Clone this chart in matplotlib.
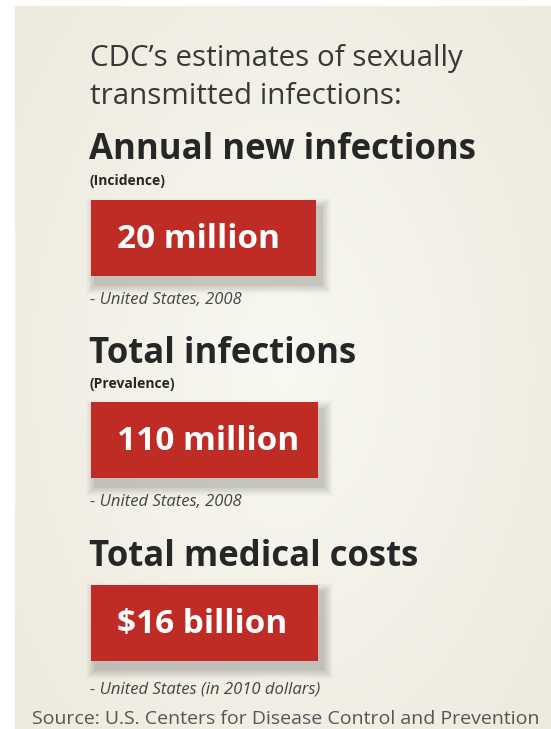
import numpy as np
import matplotlib.pyplot as plt
from matplotlib.patches import Rectangle

# content of the three panels
headings = ["Annual new infections", "Total infections", "Total medical costs"]
subheads = ["(Incidence)", "(Prevalence)", ""]
values = ["20 million", "110 million", "$16 billion"]
notes = ["- United States, 2008", "- United States, 2008",
         "- United States (in 2010 dollars)"]
title_lines = ["CDC\u2019s estimates of sexually", "transmitted infections:"]
source = "Source: U.S. Centers for Disease Control and Prevention"

W, H = 551, 729
FONT = "Open Sans"
RED = "#BF2B25"

fig = plt.figure(figsize=(W / 100, H / 100), dpi=100)
ax = fig.add_axes([0, 0, 1, 1])
ax.set_xlim(0, W)
ax.set_ylim(H, 0)
ax.axis("off")

# cream background with a soft lighter centre
yy, xx = np.mgrid[0:1:200j, 0:1:200j]
r = np.sqrt(((xx - 0.5) / 0.7) ** 2 + ((yy - 0.5) / 0.8) ** 2)
edge = np.array([0.925, 0.915, 0.865])
centre = np.array([0.975, 0.972, 0.945])
t = np.clip(r, 0, 1)[..., None]
img = centre * (1 - t) + edge * t
ax.imshow(img, extent=(15, W, H, 6), aspect="auto", zorder=0)

# title
ax.text(90, 58, title_lines[0], fontsize=21.3, family=FONT, color="#383838",
        va="center", ha="left")
ax.text(90, 96, title_lines[1], fontsize=21.3, family=FONT, color="#383838",
        va="center", ha="left")

head_y = [150, 354, 557]
sub_y = [181, 384, None]
box_y = [200, 402, 585]
note_y = [300, 502, 689]
box_w = [225, 227, 227]
box_h = 76

for i in range(3):
    ax.text(89, head_y[i], headings[i], fontsize=25, family=FONT,
            weight="bold", color="#262626", va="center", ha="left")
    if subheads[i]:
        ax.text(90, sub_y[i], subheads[i], fontsize=10, family=FONT,
                weight="bold", color="#262626", va="center", ha="left")
    # soft shadow, mostly below and to the right
    for k in range(12):
        pad = 0.8 * (k + 1)
        ax.add_patch(Rectangle((91 - pad + 5, box_y[i] - pad + 8),
                               box_w[i] + 2 * pad, box_h + 2 * pad,
                               facecolor="#000000", alpha=0.014,
                               edgecolor="none", zorder=1))
    ax.add_patch(Rectangle((91, box_y[i]), box_w[i], box_h,
                           facecolor=RED, edgecolor="none", zorder=2))
    ax.text(117, box_y[i] + box_h / 2 + 1, values[i], fontsize=24,
            family=FONT, weight="bold", color="white", va="center",
            ha="left", zorder=3)
    ax.text(90, note_y[i], notes[i], fontsize=12, family=FONT,
            style="italic", color="#444444", va="center", ha="left")

ax.text(32, 719, source, fontsize=14, family=FONT, color="#555555",
        va="center", ha="left")

fig.savefig("out.png", dpi=100, facecolor="white")
